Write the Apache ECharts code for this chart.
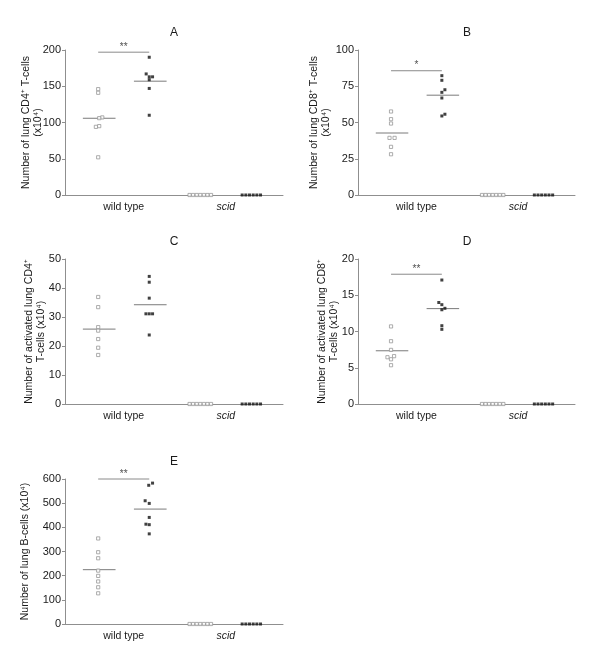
<!DOCTYPE html>
<html><head><meta charset="utf-8">
<script src="https://cdn.jsdelivr.net/npm/echarts@6/dist/echarts.min.js"></script>
<style>html,body{margin:0;padding:0;background:#fff}#c{width:600px;height:663px}</style>
</head><body><div id="c"></div>
<script>
// ---- data ----
const groups = ['wild type', 'scid'];
const panelLetters = ['A', 'B', 'C', 'D', 'E'];
const yNames = [
  'Number of lung CD4\u207A T-cells\n(x10\u2074)',
  'Number of lung CD8\u207A T-cells\n(x10\u2074)',
  'Number of activated lung CD4\u207A\nT-cells (x10\u2074)',
  'Number of activated lung CD8\u207A\nT-cells (x10\u2074)',
  'Number of lung B-cells (x10\u2074)'
];
const yMax = [200, 100, 50, 20, 600];
const yStep = [50, 25, 10, 5, 100];

// Panel A
const aWtOpen = [146, 141, 107, 106, 95, 94, 52];
const aWtOpenJit = [0, 0, 0.08, 0.02, 0.02, -0.045, 0];
const aWtFilled = [190, 167, 163, 163, 159, 147, 110];
const aWtFilledJit = [0, -0.06, 0, 0.065, 0, 0, 0];
const aScidOpen = [0, 0, 0, 0, 0, 0, 0];
const aScidFilled = [0, 0, 0, 0, 0, 0];
const aSig = { y: 197, text: '**' };

// Panel B
const bWtOpen = [57.6, 52.3, 49.3, 39.4, 39.4, 33.2, 28.1];
const bWtOpenJit = [0, 0, 0, -0.03, 0.07, 0, 0];
const bWtFilled = [82.3, 79.1, 72.6, 70.8, 66.9, 55.7, 54.5];
const bWtFilledJit = [0, 0, 0.06, 0, 0, 0.06, 0];
const bScidOpen = [0, 0, 0, 0, 0, 0, 0];
const bScidFilled = [0, 0, 0, 0, 0, 0];
const bSig = { y: 85.7, text: '*' };

// Panel C
const cWtOpen = [36.9, 33.4, 26.5, 25.3, 22.4, 19.4, 16.9];
const cWtOpenJit = [0, 0, 0, 0, 0, 0, 0];
const cWtFilled = [44, 42, 36.5, 31.1, 31.1, 31.1, 23.8];
const cWtFilledJit = [0, 0, 0, -0.065, 0, 0.065, 0];
const cScidOpen = [0, 0, 0, 0, 0, 0, 0];
const cScidFilled = [0, 0, 0, 0, 0, 0];
const cSig = null;

// Panel D
const dWtOpen = [10.7, 8.66, 7.46, 6.6, 6.45, 6.17, 5.35];
const dWtOpenJit = [0, 0, 0, 0.06, -0.07, 0, 0];
const dWtFilled = [17.1, 14.0, 13.7, 13.2, 13.0, 10.8, 10.3];
const dWtFilledJit = [0, -0.06, 0, 0.06, 0, 0, 0];
const dScidOpen = [0, 0, 0, 0, 0, 0, 0];
const dScidFilled = [0, 0, 0, 0, 0, 0];
const dSig = { y: 17.9, text: '**' };

// Panel E
const eWtOpen = [354, 297, 272, 221, 199, 176, 152, 127];
const eWtOpenJit = [0, 0, 0, 0, 0, 0, 0, 0];
const eWtFilled = [583, 574, 510, 499, 441, 413, 411, 373];
const eWtFilledJit = [0.065, -0.01, -0.08, 0, 0, -0.065, 0, 0];
const eScidOpen = [0, 0, 0, 0, 0, 0, 0];
const eScidFilled = [0, 0, 0, 0, 0, 0];
const eSig = { y: 600, text: '**' };

// ---- layout / style ----
const panels = [
  { wo: aWtOpen, woj: aWtOpenJit, wf: aWtFilled, wfj: aWtFilledJit, so: aScidOpen, sf: aScidFilled, sig: aSig },
  { wo: bWtOpen, woj: bWtOpenJit, wf: bWtFilled, wfj: bWtFilledJit, so: bScidOpen, sf: bScidFilled, sig: bSig },
  { wo: cWtOpen, woj: cWtOpenJit, wf: cWtFilled, wfj: cWtFilledJit, so: cScidOpen, sf: cScidFilled, sig: cSig },
  { wo: dWtOpen, woj: dWtOpenJit, wf: dWtFilled, wfj: dWtFilledJit, so: dScidOpen, sf: dScidFilled, sig: dSig },
  { wo: eWtOpen, woj: eWtOpenJit, wf: eWtFilled, wfj: eWtFilledJit, so: eScidOpen, sf: eScidFilled, sig: eSig }
];
const grids = [
  { left: 65, top: 50, width: 218, height: 145 },
  { left: 358, top: 50, width: 217, height: 145 },
  { left: 65, top: 259, width: 218, height: 145 },
  { left: 358, top: 259, width: 217, height: 145 },
  { left: 65, top: 479, width: 218, height: 145 }
];
const nameGaps = [21, 26, 18, 18, 34];
const FONT = "'Liberation Sans', Arial, Helvetica, sans-serif";
const AX = '#8f8f8f';
const TXT = '#1a1a1a';
const OPEN = '#999999';

const mean = a => a.reduce((s, v) => s + v, 0) / a.length;
const spread = (n, step) => Array.from({ length: n }, (_, i) => (i - (n - 1) / 2) * step);

const option = {
  animation: false,
  backgroundColor: '#fff',
  textStyle: { fontFamily: FONT },
  grid: grids.map(g => Object.assign({ containLabel: false }, g)),
  xAxis: grids.map((g, i) => ({
    type: 'value', gridIndex: i, min: 0.35, max: 4.62,
    axisLine: { show: true, lineStyle: { color: AX, width: 1 } },
    axisTick: { show: false },
    splitLine: { show: false },
    axisLabel: {
      customValues: [1.5, 3.5], margin: 7, color: TXT, fontSize: 10.5, fontFamily: FONT,
      formatter: v => v < 2.5 ? groups[0] : '{i|' + groups[1] + '}',
      rich: { i: { fontStyle: 'italic', fontSize: 10.5, color: TXT, fontFamily: FONT } }
    }
  })),
  yAxis: grids.map((g, i) => ({
    type: 'value', gridIndex: i, min: 0, max: yMax[i], interval: yStep[i],
    name: yNames[i], nameLocation: 'middle', nameGap: nameGaps[i], nameMoveOverlap: false,
    nameTextStyle: { fontSize: 10.5, color: TXT, lineHeight: 12, fontFamily: FONT },
    axisLine: { show: true, lineStyle: { color: AX, width: 1 } },
    axisTick: { show: true, length: 3, lineStyle: { color: AX } },
    splitLine: { show: false },
    axisLabel: { color: TXT, fontSize: 11, margin: 4, fontFamily: FONT }
  })),
  graphic: grids.map((g, i) => ({
    type: 'text', x: g.left + 109, y: g.top - 17,
    style: { text: panelLetters[i], font: '12px ' + FONT, fill: TXT, align: 'center', verticalAlign: 'middle' }
  })),
  series: []
};

panels.forEach((p, i) => {
  const ax = { xAxisIndex: i, yAxisIndex: i };
  const openStyle = { color: '#fff', borderColor: OPEN, borderWidth: 1 };
  const filledStyle = { color: '#111' };
  const so = spread(p.so.length, 0.07), sf = spread(p.sf.length, 0.072);
  [[1, p.wo], [2, p.wf]].forEach(([c, arr]) => {
    const m = mean(arr);
    option.series.push(Object.assign({
      type: 'line', data: [[c - 0.3, m], [c + 0.34, m]], symbol: 'none', silent: true, z: 1,
      lineStyle: { color: '#7a7a7a', width: 1 }
    }, ax));
  });
  option.series.push(Object.assign({ type: 'scatter', symbol: 'rect', symbolSize: 3.2, itemStyle: openStyle, z: 3,
    data: p.wo.map((v, k) => [1 + p.woj[k], v]) }, ax));
  option.series.push(Object.assign({ type: 'scatter', symbol: 'rect', symbolSize: 3, itemStyle: filledStyle, z: 3,
    data: p.wf.map((v, k) => [2 + p.wfj[k], v]) }, ax));
  option.series.push(Object.assign({ type: 'scatter', symbol: 'rect', symbolSize: 3.2, itemStyle: openStyle, z: 3, clip: false,
    data: p.so.map((v, k) => [3 + so[k], v]) }, ax));
  option.series.push(Object.assign({ type: 'scatter', symbol: 'rect', symbolSize: 3, itemStyle: filledStyle, z: 3, clip: false,
    data: p.sf.map((v, k) => [4 + sf[k], v]) }, ax));
  if (p.sig) {
    option.series.push(Object.assign({
      type: 'line', data: [[1, p.sig.y], [2, p.sig.y]], symbol: 'none', silent: true, z: 1, clip: false,
      lineStyle: { color: '#8a8a8a', width: 1 }
    }, ax));
    option.series.push(Object.assign({
      type: 'scatter', data: [[1.5, p.sig.y]], symbolSize: 0.1, silent: true, clip: false,
      label: { show: true, position: 'top', distance: 0, formatter: p.sig.text, fontSize: 10, color: TXT, fontFamily: FONT }
    }, ax));
  }
});

const chart = echarts.init(document.getElementById('c'), null, { renderer: 'canvas' });
chart.setOption(option);
</script>
</body></html>
